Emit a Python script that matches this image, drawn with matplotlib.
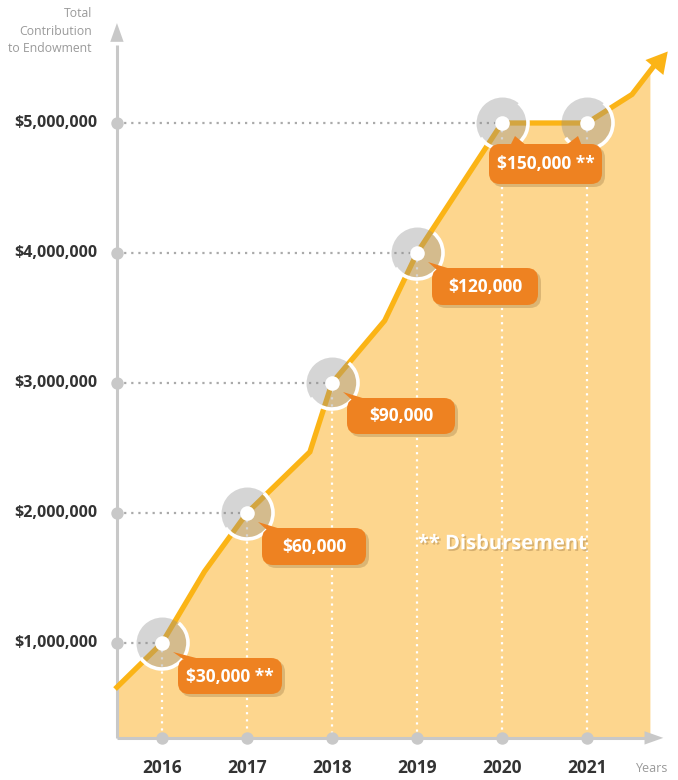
import numpy as np
import matplotlib.pyplot as plt
from matplotlib import transforms as mtransforms
from matplotlib.patches import Polygon, FancyBboxPatch, Arc
from matplotlib import patheffects as pe

# ---- data ----
years = [2016, 2017, 2018, 2019, 2020, 2021]
milestones = [1_000_000, 2_000_000, 3_000_000, 4_000_000, 5_000_000, 5_000_000]
ytick_vals = [1_000_000, 2_000_000, 3_000_000, 4_000_000, 5_000_000]
ytick_labels = ['$1,000,000', '$2,000,000', '$3,000,000', '$4,000,000', '$5,000,000']

# trend line of the total contribution
line_x = [2015.47, 2016, 2016.5, 2017, 2017.74, 2018, 2018.62, 2019, 2020, 2021, 2021.53, 2021.95]
line_y = [660_000, 1_000_000, 1_550_000, 2_000_000, 2_470_000, 3_000_000, 3_480_000,
          4_000_000, 5_000_000, 5_000_000, 5_220_000, 5_550_000]

callout_labels = ['$30,000 **', '$60,000', '$90,000', '$120,000', '$150,000 **']
callout_years = [[2016], [2017], [2018], [2019], [2020, 2021]]

# ---- style ----
FILL = '#FDD68E'
LINE = '#FBB416'
ORANGE = '#EE8221'
AXIS = '#C8C8C8'
DARK = '#333333'
FONT = ['Open Sans', 'DejaVu Sans']

fig = plt.figure(figsize=(6.78, 7.8), dpi=100)
ax = fig.add_axes([0, 0, 1, 1])
# 85 px per year, 130 px per million
ax.set_xlim(2016 - 162 / 85, 2016 + (678 - 162) / 85)
ax.set_ylim(-7 / 130 * 1e6, 773 / 130 * 1e6)
ax.axis('off')

x_axis_at = line_x[0]
y_axis_at = 270_000
fill_end = 2021.74

# area
fx = [x for x in line_x if x < fill_end] + [fill_end]
fy = np.interp(fx, line_x, line_y)
ax.fill_between(fx, y_axis_at, fy, color=FILL, lw=0, zorder=1)

# axes with arrows
ax.plot([x_axis_at, x_axis_at], [y_axis_at, 5_600_000], color=AXIS, lw=2.2, zorder=2,
        solid_capstyle='butt')
ax.annotate('', xy=(x_axis_at, 5_790_000), xytext=(x_axis_at, 5_500_000),
            arrowprops=dict(arrowstyle='-|>,head_length=0.45,head_width=0.16',
                            mutation_scale=30, color=AXIS, lw=0), zorder=2)
ax.plot([x_axis_at, 2021.8], [y_axis_at, y_axis_at], color=AXIS, lw=2.2, zorder=2,
        solid_capstyle='butt')
ax.annotate('', xy=(2021.93, y_axis_at), xytext=(2021.5, y_axis_at),
            arrowprops=dict(arrowstyle='-|>,head_length=0.45,head_width=0.16',
                            mutation_scale=30, color=AXIS, lw=0), zorder=2)

# guide lines
for yr, v in zip(years, milestones):
    ax.plot([yr, yr], [v, y_axis_at], color='white', lw=1.6, ls=(0, (1, 2.2)), zorder=2.5)
for v in ytick_vals:
    last = max(yr for yr, m in zip(years, milestones) if m == v)
    ax.plot([x_axis_at, last], [v, v], color='#AAAAAA', lw=1.6, ls=(0, (1, 2.2)), zorder=2.5)

# tick dots
ax.scatter([x_axis_at] * len(ytick_vals), ytick_vals, s=80, color=AXIS, zorder=3, lw=0)
ax.scatter(years, [y_axis_at] * len(years), s=80, color=AXIS, zorder=3, lw=0)

# trend line + arrow head
ax.plot(line_x[:-1] + [line_x[-1] - 0.12], line_y[:-1] + [line_y[-1] - 75_000],
        color=LINE, lw=3.8, zorder=4, solid_joinstyle='miter')
ax.annotate('', xy=(line_x[-1], line_y[-1]), xytext=(line_x[-2], line_y[-2]),
            arrowprops=dict(arrowstyle='-|>,head_length=0.5,head_width=0.28',
                            mutation_scale=30, color=LINE, lw=0,
                            shrinkA=0, shrinkB=0), zorder=4)


def at(x, y):
    # inch offsets around a data point
    return fig.dpi_scale_trans + mtransforms.ScaledTranslation(x, y, ax.transData)


# milestone markers
for yr, v in zip(years, milestones):
    ax.scatter([yr], [v], s=1400, color='#8C8C8C', alpha=0.36, lw=0, zorder=5)
    ax.add_patch(Arc((0, 0), 0.52, 0.52, theta1=-145, theta2=50, transform=at(yr, v),
                     color='white', lw=2.6, zorder=5.5))
    ax.scatter([yr], [v], s=110, color='white', lw=0, zorder=6)

# callouts (offsets in inches relative to first point)
box_specs = [
    (0.16, -0.51, 1.04, 0.36),
    (0.15, -0.52, 1.04, 0.37),
    (0.15, -0.51, 1.08, 0.36),
    (0.15, -0.52, 1.06, 0.37),
    (-0.13, -0.61, 1.13, 0.40),
]
pointer_specs = [
    [[(0.11, -0.09), (0.21, -0.16), (0.38, -0.16)]],
    [[(0.11, -0.09), (0.20, -0.17), (0.37, -0.17)]],
    [[(0.11, -0.09), (0.20, -0.17), (0.37, -0.17)]],
    [[(0.11, -0.09), (0.20, -0.17), (0.37, -0.17)]],
    [[(0.13, -0.13), (0.08, -0.23), (0.25, -0.23)],
     [(-0.09, -0.13), (-0.22, -0.23), (-0.05, -0.23)]],
]

for label, yrs, (bx, by, bw, bh), ptrs in zip(callout_labels, callout_years,
                                              box_specs, pointer_specs):
    v = milestones[years.index(yrs[0])]
    tr = at(yrs[0], v)
    shadow = FancyBboxPatch((bx + 0.03, by - 0.03), bw, bh,
                            boxstyle='round,pad=0,rounding_size=0.11',
                            transform=tr, fc='#9c7a45', ec='none', alpha=0.35, zorder=6.5)
    ax.add_patch(shadow)
    box = FancyBboxPatch((bx, by), bw, bh, boxstyle='round,pad=0,rounding_size=0.11',
                         transform=tr, fc=ORANGE, ec='none', zorder=7)
    ax.add_patch(box)
    for yr, tri in zip(yrs, ptrs):
        ax.add_patch(Polygon(tri, closed=True, transform=at(yr, v), fc=ORANGE,
                             ec='none', zorder=7))
    ax.text(bx + bw / 2, by + bh / 2 - 0.005, label, transform=tr, ha='center',
            va='center', color='white', fontsize=12.5, fontweight='bold',
            family=FONT, zorder=8)

# y tick labels
for v, lab in zip(ytick_vals, ytick_labels):
    ax.annotate(lab, xy=(x_axis_at, v), xytext=(-14, 0), textcoords='offset points',
                ha='right', va='center', fontsize=11.5, fontweight='bold',
                color=DARK, family=FONT)

# x tick labels
for yr in years:
    ax.annotate(str(yr), xy=(yr, y_axis_at), xytext=(0, -22), textcoords='offset points',
                ha='center', va='center', fontsize=12.5, fontweight='bold',
                color=DARK, family=FONT)

ax.annotate('Years', xy=(2021.93, y_axis_at), xytext=(-22, -22), textcoords='offset points',
            ha='left', va='center', fontsize=9, color='#9A9A9A', family=FONT)
ax.annotate('Total\nContribution\nto Endowment', xy=(x_axis_at, 5_890_000),
            xytext=(-18, 0), textcoords='offset points', ha='right', va='top',
            fontsize=8.8, color='#9A9A9A', family=FONT, linespacing=1.45)

ax.text(2019.01, 1_760_000, '** Disbursement', ha='left', va='center', color='white',
        fontsize=14.5, fontweight='bold', family=FONT, zorder=3,
        path_effects=[pe.withSimplePatchShadow(offset=(1.2, -1.2), shadow_rgbFace='#b08a50',
                                                alpha=0.5)])

fig.savefig('out.png', dpi=100)
